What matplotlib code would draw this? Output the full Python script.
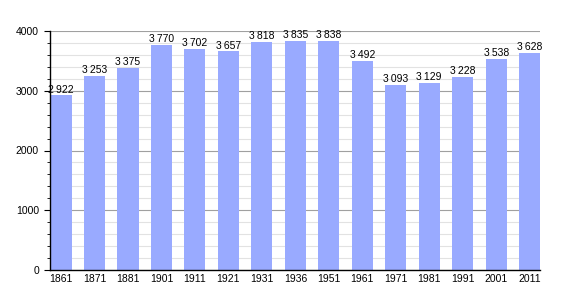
import matplotlib
matplotlib.use("Agg")
import matplotlib.pyplot as plt
from matplotlib.ticker import MultipleLocator

plt.rcParams['font.family'] = ['Liberation Sans', 'DejaVu Sans']

years = ['1861', '1871', '1881', '1901', '1911', '1921', '1931', '1936',
         '1951', '1961', '1971', '1981', '1991', '2001', '2011']
population = [2922, 3253, 3375, 3770, 3702, 3657, 3818, 3835,
              3838, 3492, 3093, 3129, 3228, 3538, 3628]

fig = plt.figure(figsize=(5.7, 3.0), dpi=100)
ax = fig.add_axes([50 / 570, 30 / 300, 490 / 570, 239 / 300])

x = range(len(years))
ax.bar(x, population, width=0.63, color='#99aaff', zorder=2)

for xi, v in zip(x, population):
    s = f"{v:,}".replace(',', '\u2009')
    ax.text(xi, v + 15, s, ha='center', va='bottom', fontsize=7.5, zorder=3)

ax.set_xlim(-0.33, len(years) - 1 + 0.31)
ax.set_ylim(0, 4000)
ax.set_xticks(list(x))
ax.set_xticklabels(years)
ax.yaxis.set_major_locator(MultipleLocator(1000))
ax.yaxis.set_minor_locator(MultipleLocator(200))

ax.grid(which='major', axis='y', color='#a0a0a0', linewidth=0.8, zorder=1)
ax.grid(which='minor', axis='y', color='#e2e2e2', linewidth=0.8, zorder=1)
ax.set_axisbelow(True)

for side in ['top', 'right']:
    ax.spines[side].set_visible(False)
ax.spines['left'].set_linewidth(1.0)
ax.spines['bottom'].set_linewidth(1.0)

ax.tick_params(axis='x', length=0, labelsize=7.5, pad=3)
ax.tick_params(axis='y', which='major', length=4, labelsize=7.5, pad=4)
ax.tick_params(axis='y', which='minor', length=2)

fig.savefig('out.png', dpi=100)
